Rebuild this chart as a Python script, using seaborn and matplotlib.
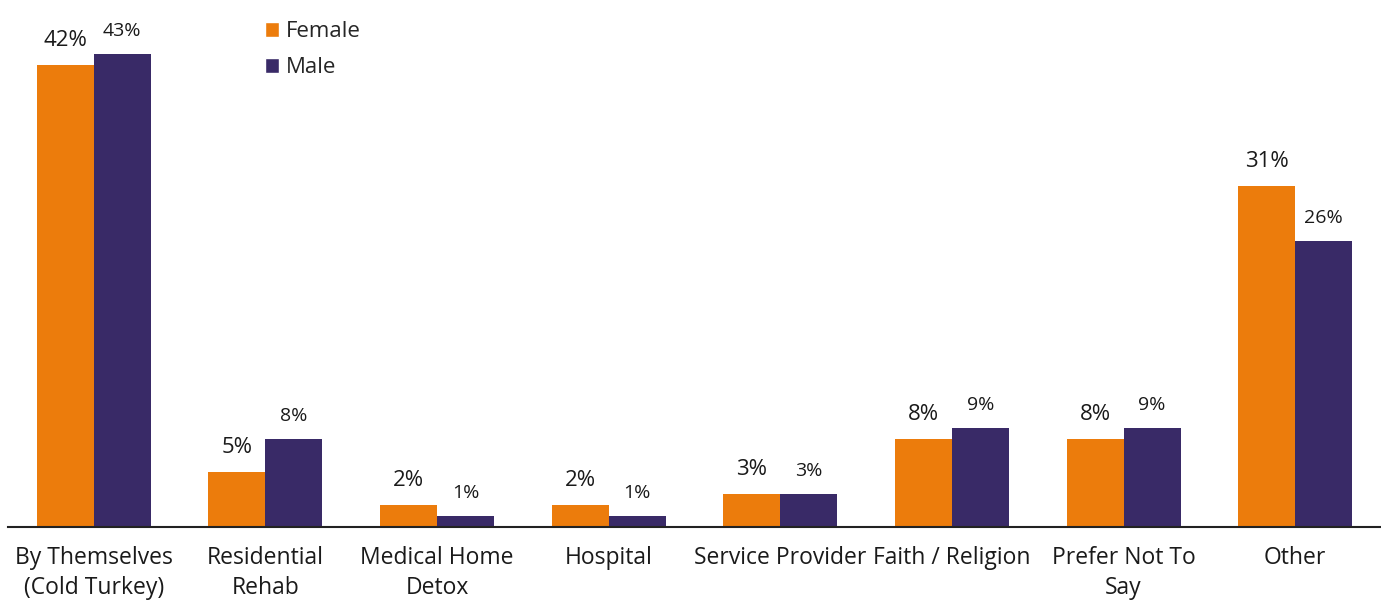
import matplotlib
matplotlib.use("Agg")
import matplotlib.pyplot as plt
import seaborn as sns
import pandas as pd

categories = [
    "By Themselves\n(Cold Turkey)",
    "Residential\nRehab",
    "Medical Home\nDetox",
    "Hospital",
    "Service Provider",
    "Faith / Religion",
    "Prefer Not To\nSay",
    "Other",
]
female = [42, 5, 2, 2, 3, 8, 8, 31]
male = [43, 8, 1, 1, 3, 9, 9, 26]
series = ["Female", "Male"]
colors = {"Female": "#EC7C0C", "Male": "#392A67"}

df = pd.DataFrame({
    "Category": categories * 2,
    "Gender": ["Female"] * len(categories) + ["Male"] * len(categories),
    "Percent": female + male,
})

sns.set_theme(style="white")
plt.rcParams["font.family"] = ["Open Sans", "DejaVu Sans"]

fig = plt.figure(figsize=(13.81, 6.01), dpi=100)
ax = fig.add_axes([8 / 1381, (601 - 527) / 601, 1373 / 1381, 527 / 601])

sns.barplot(data=df, x="Category", y="Percent", hue="Gender", hue_order=series,
            palette=colors, width=0.664, saturation=1, ax=ax, legend=False,
            edgecolor="none", linewidth=0)

ax.set_xlim(-0.5, len(categories) - 0.5)
ax.set_ylim(0, 47.9)

# value labels: female labels slightly larger than male ones
label_style = {"Female": dict(fontsize=16, padding=10), "Male": dict(fontsize=14, padding=10)}
for cont, name in zip(ax.containers, series):
    ax.bar_label(cont, labels=[f"{v:.0f}%" for v in cont.datavalues],
                 color="#1a1a1a", **label_style[name])

ax.set_xlabel("")
ax.set_ylabel("")
ax.set_yticks([])
ax.tick_params(axis="x", length=0, pad=14, labelsize=16.5, colors="#1a1a1a")
for lbl in ax.get_xticklabels():
    lbl.set_linespacing(1.3)

for side in ["top", "right", "left"]:
    ax.spines[side].set_visible(False)
ax.spines["bottom"].set_color("#222222")
ax.spines["bottom"].set_linewidth(1.5)

handles = [plt.Rectangle((0, 0), 1, 1, facecolor=colors[s]) for s in series]
fig.legend(handles, series, loc="upper left", bbox_to_anchor=(256 / 1381, 1 - 12 / 601),
           frameon=False, fontsize=16, handlelength=0.65, handleheight=0.65,
           handletextpad=0.3, labelspacing=0.7, borderaxespad=0)

fig.savefig("out.png", dpi=100, facecolor="white")
